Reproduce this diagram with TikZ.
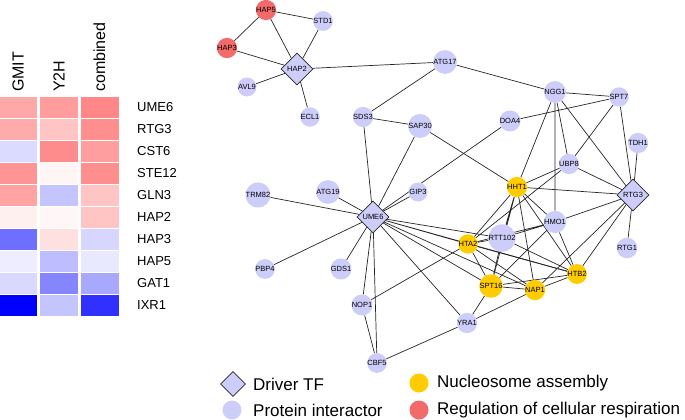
\documentclass[tikz,border=0pt]{standalone}
\usepackage{fontspec}
\setmainfont{Liberation Sans}
\usetikzlibrary{shapes.geometric,backgrounds}

\definecolor{interactor}{RGB}{205,205,250}
\definecolor{nucleo}{RGB}{255,204,0}
\definecolor{respir}{RGB}{242,106,106}

\begin{document}
\begin{tikzpicture}[
    x=1pt, y=-1pt,
    prot/.style={
      circle, fill=interactor, minimum size=19pt, inner sep=0pt,
      font=\fontsize{7.5}{7.5}\selectfont
    },
    nucl/.style={prot, fill=nucleo},
    resp/.style={prot, fill=respir},
    driver/.style={
      diamond, draw=black!85, fill=interactor, line width=0.8pt,
      minimum width=32pt, minimum height=32pt, inner sep=0pt,
      font=\fontsize{7.5}{7.5}\selectfont
    },
    link/.style={draw=black!85, line width=0.7pt},
    cell/.style={minimum width=38pt, minimum height=21pt, inner sep=0pt},
    rowlbl/.style={anchor=west, inner sep=0pt, font=\fontsize{13}{13}\selectfont},
    collbl/.style={anchor=west, rotate=90, inner sep=0pt, font=\fontsize{16}{16}\selectfont},
    leg/.style={anchor=west, inner sep=0pt, font=\fontsize{17}{17}\selectfont}
  ]
  \useasboundingbox (0,0) rectangle (685,420);

  % heatmap
  \node[collbl] (hGMIT) at (18,92) {GMIT};
  \node[collbl] (hY2H) at (59,92) {Y2H};
  \node[collbl] (hComb) at (99.5,92) {combined};
  \foreach \gene/\ca/\cb/\cc [count=\i] in {
      UME6/red!34/red!39/red!47, RTG3/red!33/red!23/red!44,
      CST6/blue!14/red!45/red!38, STE12/red!42/red!4/red!44,
      GLN3/red!36/blue!23/red!23, HAP2/red!6/red!3/red!23,
      HAP3/blue!57/red!12/blue!16, HAP5/blue!7/blue!26/blue!9,
      GAT1/blue!15/blue!48/blue!34, IXR1/blue!100/blue!23/blue!81} {
    \node[cell, fill=\ca] (gmit\i) at (18,85+22*\i) {};
    \node[cell, fill=\cb] (y2h\i) at (59,85+22*\i) {};
    \node[cell, fill=\cc] (comb\i) at (99.5,85+22*\i) {};
    \node[rowlbl] (lbl\i) at (137,85+22*\i) {\gene};
  }

  % network
  \node[resp] (HAP5) at (266,10) {HAP5};
  \node[prot] (STD1) at (323,21) {STD1};
  \node[resp] (HAP3) at (227,48) {HAP3};
  \node[driver] (HAP2) at (297,69) {HAP2};
  \node[prot] (AVL9) at (247,87) {AVL9};
  \node[prot] (ECL1) at (310,117) {ECL1};
  \node[prot] (ATG17) at (445,62) {ATG17};
  \node[prot] (SDS3) at (363,117) {SDS3};
  \node[prot] (SAP30) at (420,126) {SAP30};
  \node[prot] (DOA4) at (510,121) {DOA4};
  \node[prot] (NGG1) at (555,92) {NGG1};
  \node[prot] (SPT7) at (619,97) {SPT7};
  \node[prot] (TDH1) at (638,143) {TDH1};
  \node[prot] (UBP8) at (569,164) {UBP8};
  \node[nucl] (HHT1) at (517,187) {HHT1};
  \node[driver] (RTG3) at (633,195) {RTG3};
  \node[prot] (HMO1) at (555,222) {HMO1};
  \node[prot] (TRM82) at (258,195) {TRM82};
  \node[prot] (ATG19) at (328,192) {ATG19};
  \node[prot] (GIP3) at (418,192) {GIP3};
  \node[driver] (UME6) at (373,217) {UME6};
  \node[prot] (PBP4) at (265,269) {PBP4};
  \node[prot] (GDS1) at (341,269) {GDS1};
  \node[prot] (NOP1) at (362,305) {NOP1};
  \node[prot] (RTT102) at (502,238) {RTT102};
  \node[nucl] (HTA2) at (468,244) {HTA2};
  \node[prot] (RTG1) at (627,248) {RTG1};
  \node[nucl] (HTB2) at (577,274) {HTB2};
  \node[nucl] (SPT16) at (491,286) {SPT16};
  \node[nucl] (NAP1) at (535,290) {NAP1};
  \node[prot] (YRA1) at (467,323) {YRA1};
  \node[prot] (CBF5) at (377,363) {CBF5};

  \begin{scope}[on background layer]
    \draw[link] (HAP2) -- (HAP5) (HAP2) -- (STD1) (HAP2) -- (HAP3)
      (HAP2) -- (AVL9) (HAP2) -- (ECL1) (HAP2) -- (ATG17);
    \draw[link] (HAP5) -- (STD1) (HAP5) -- (HAP3);
    \draw[link] (ATG17) -- (SDS3) (ATG17) -- (NGG1);
    \draw[link] (SDS3) -- (SAP30) (SDS3) -- (UME6);
    \draw[link] (SAP30) -- (UME6) (SAP30) -- (HHT1);
    \draw[link] (DOA4) -- (SPT7) (DOA4) -- (UME6) (GIP3) -- (UME6);
    \draw[link] (UME6) -- (TRM82) (UME6) -- (ATG19) (UME6) -- (PBP4)
      (UME6) -- (GDS1) (UME6) -- (NOP1) (UME6) -- (CBF5) (UME6) -- (YRA1)
      (UME6) -- (SPT16) (UME6) -- (NAP1) (UME6) -- (HTB2) (UME6) -- (HTA2)
      (UME6) -- (RTT102);
    \draw[link] (NOP1) -- (CBF5) (NOP1) -- (HTA2) (CBF5) -- (YRA1);
    \draw[link] (YRA1) -- (SPT16) (YRA1) -- (NAP1);
    \draw[link] (NGG1) -- (SPT7) (NGG1) -- (UBP8) (NGG1) -- (HHT1)
      (NGG1) -- (HMO1) (NGG1) -- (RTG3);
    \draw[link] (SPT7) -- (UBP8) (SPT7) -- (RTG3) (TDH1) -- (RTG3);
    \draw[link] (UBP8) -- (HHT1) (UBP8) -- (HTA2) (UBP8) -- (RTG3);
    \draw[link] (RTG3) -- (HHT1) (RTG3) -- (HMO1) (RTG3) -- (RTG1)
      (RTG3) -- (HTB2) (RTG3) -- (NAP1);
    \draw[link] (HHT1) -- (HTA2) (HHT1) -- (RTT102) (HHT1) -- (SPT16)
      (HHT1) -- (NAP1) (HHT1) -- (HTB2) (HHT1) -- (HMO1);
    \draw[link] (HMO1) -- (RTT102) (HMO1) -- (HTA2) (HMO1) -- (SPT16)
      (HMO1) -- (HTB2);
    \draw[link] (HTA2) -- (RTT102) (HTA2) -- (SPT16) (HTA2) -- (NAP1)
      (HTA2) -- (HTB2);
    \draw[link] (RTT102) -- (SPT16) (RTT102) -- (HTB2);
    \draw[link] (SPT16) -- (NAP1) (SPT16) -- (HTB2) (NAP1) -- (HTB2);
  \end{scope}

  % legend
  \node[driver, minimum width=25pt, minimum height=25pt] (legDriver) at (233,384) {};
  \node[leg] (txtDriver) at (253,384) {Driver TF};
  \node[prot] (legProt) at (232,410) {};
  \node[leg] (txtProt) at (253,410) {Protein interactor};
  \node[nucl] (legNucl) at (419,383) {};
  \node[leg] (txtNucl) at (437,383) {Nucleosome assembly};
  \node[resp] (legResp) at (419,410) {};
  \node[leg] (txtResp) at (437,410) {Regulation of cellular respiration};
\end{tikzpicture}
\end{document}
